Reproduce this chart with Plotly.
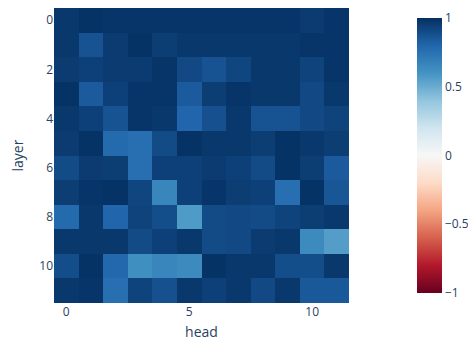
import plotly.graph_objects as go
import plotly.colors as pc

heads = list(range(12))
layers = list(range(12))

row0 = [0.97, 0.99, 0.98, 0.98, 0.98, 0.98, 0.98, 0.98, 0.98, 0.98, 0.96, 0.98]
row1 = [0.97, 0.87, 0.96, 0.99, 0.95, 0.97, 0.97, 0.97, 0.97, 0.97, 0.98, 0.98]
row2 = [0.96, 0.94, 0.96, 0.96, 0.98, 0.91, 0.87, 0.92, 0.97, 0.97, 0.93, 0.98]
row3 = [0.99, 0.84, 0.94, 0.98, 0.98, 0.84, 0.95, 0.98, 0.97, 0.97, 0.91, 0.97]
row4 = [0.97, 0.94, 0.87, 0.98, 0.97, 0.80, 0.88, 0.97, 0.87, 0.87, 0.91, 0.93]
row5 = [0.96, 0.99, 0.78, 0.76, 0.90, 0.99, 0.97, 0.97, 0.95, 0.99, 0.97, 0.95]
row6 = [0.90, 0.96, 0.95, 0.76, 0.94, 0.94, 0.96, 0.94, 0.90, 0.99, 0.95, 0.84]
row7 = [0.95, 0.98, 0.99, 0.92, 0.66, 0.94, 0.98, 0.95, 0.94, 0.76, 0.99, 0.86]
row8 = [0.78, 0.97, 0.80, 0.93, 0.89, 0.57, 0.90, 0.91, 0.90, 0.93, 0.95, 0.97]
row9 = [0.97, 0.97, 0.97, 0.90, 0.94, 0.97, 0.90, 0.91, 0.96, 0.97, 0.64, 0.56]
row10 = [0.89, 0.99, 0.79, 0.62, 0.66, 0.64, 0.99, 0.97, 0.97, 0.89, 0.89, 0.97]
row11 = [0.97, 0.98, 0.76, 0.93, 0.88, 0.97, 0.94, 0.97, 0.91, 0.97, 0.85, 0.85]

z = [row0, row1, row2, row3, row4, row5, row6, row7, row8, row9, row10, row11]

W, H = 476, 341
ml, mr, mt, mb = 46, 77, 0, 46
pw = W - ml - mr
ph = H - mt - mb

fig = go.Figure(go.Heatmap(
    z=z, x=heads, y=layers,
    colorscale=pc.diverging.RdBu,
    zmin=-1, zmax=1,
    colorbar=dict(thickness=25, x=1.0, tickvals=[-1, -0.5, 0, 0.5, 1],
                  ticktext=["\u22121", "\u22120.5", "0", "0.5", "1"],
                  outlinewidth=0),
))

fig.update_layout(
    template="plotly",
    width=W, height=H,
    margin=dict(l=ml, r=mr, t=mt, b=mb),
    paper_bgcolor="white", plot_bgcolor="white",
    font=dict(family="Open Sans, Arial", size=12, color="#2a3f5f"),
)
fig.update_xaxes(title_text="head", domain=[0, ph / pw], range=[-0.5, 11.5],
                 tickvals=[0, 5, 10], showgrid=False, zeroline=False,
                 automargin=False, title_standoff=8)
fig.update_yaxes(title_text="layer", range=[11.5, -0.5],
                 tickvals=[0, 2, 4, 6, 8, 10], showgrid=False, zeroline=False,
                 automargin=False)

fig.write_html("out.html")
